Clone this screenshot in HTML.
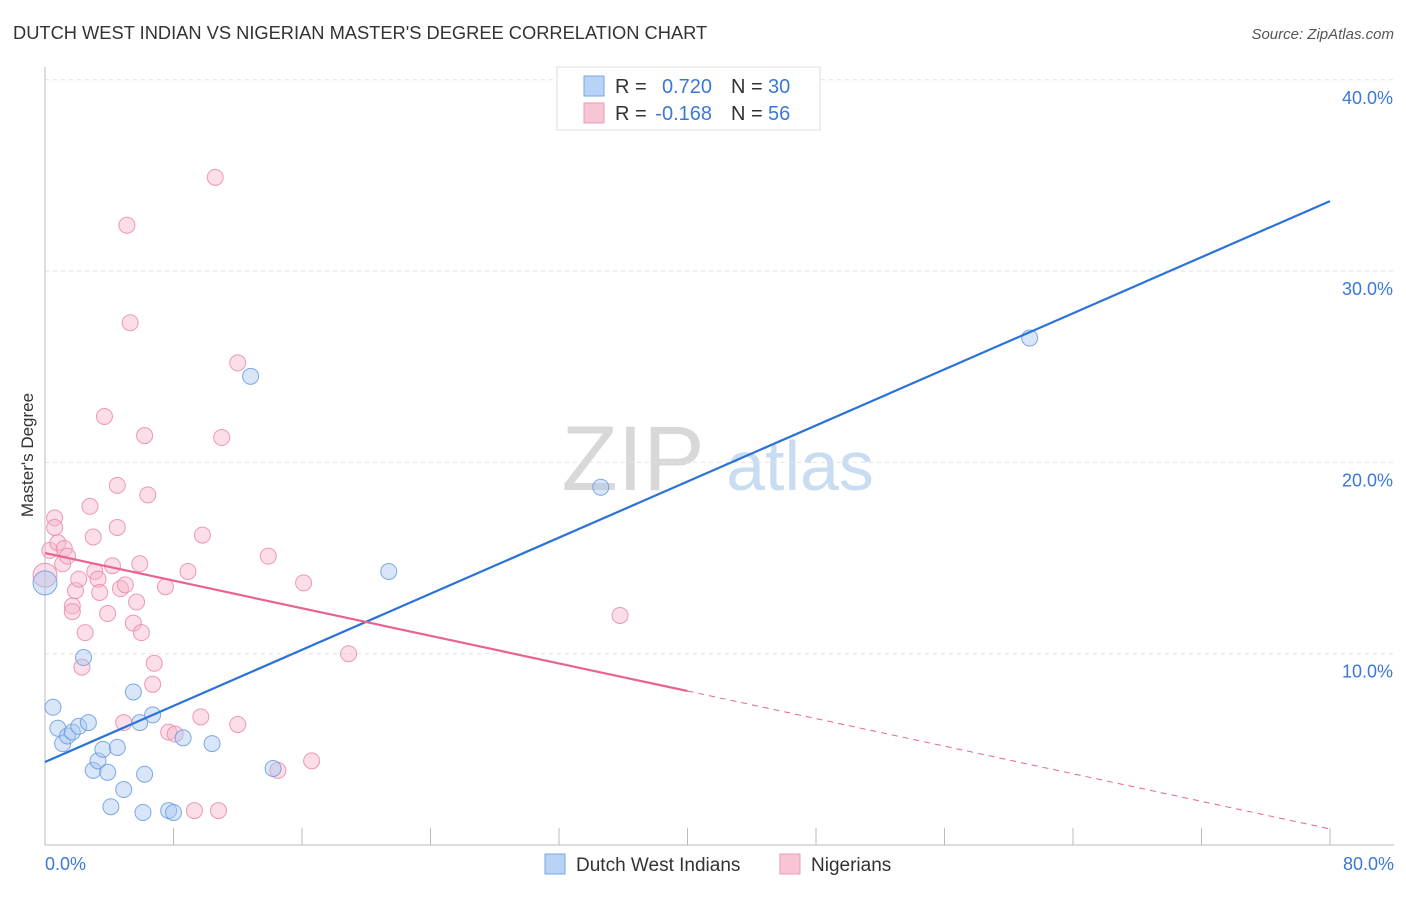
<!DOCTYPE html>
<html><head><meta charset="utf-8"><style>
body{margin:0;background:#fff;font-family:"Liberation Sans",sans-serif;}
svg text{font-family:"Liberation Sans",sans-serif;}
</style></head><body>
<svg id="chart" width="1406" height="892" viewBox="0 0 1406 892" xmlns="http://www.w3.org/2000/svg">
<text x="13" y="39" font-size="18.3" fill="#333">DUTCH WEST INDIAN VS NIGERIAN MASTER'S DEGREE CORRELATION CHART</text>
<text x="1394" y="39" font-size="15" fill="#555" font-style="italic" text-anchor="end">Source: ZipAtlas.com</text>
<g>
<text x="633" y="490" font-size="92" fill="#d8d8d8" font-family="Liberation Serif,serif" text-anchor="middle">ZIP</text>
<text x="800" y="490" font-size="70" fill="#c8dcf2" text-anchor="middle">atlas</text>
</g>
<g id="grid"></g>
<g id="axes"></g>
<g id="series"></g>
<text x="33" y="455" font-size="17" fill="#333" text-anchor="middle" transform="rotate(-90 33 455)">Master's Degree</text>
<text x="45" y="870" font-size="18" fill="#3b78d8">0.0%</text>
<text x="1394" y="870" font-size="18" fill="#3b78d8" text-anchor="end">80.0%</text>
<g>
<rect x="557" y="67" width="263" height="63" fill="#fff" stroke="#ddd"/>
<rect x="584" y="76" width="20" height="20" fill="#b8d3f5" stroke="#7aa6e6"/>
<rect x="584" y="103" width="20" height="20" fill="#f8c5d4" stroke="#eb9ab3"/>
<text x="615" y="93" font-size="20" fill="#333">R =</text>
<text x="712" y="93" font-size="20" fill="#3b78d8" text-anchor="end">0.720</text>
<text x="731" y="93" font-size="20" fill="#333">N =</text>
<text x="768" y="93" font-size="20" fill="#3b78d8">30</text>
<text x="615" y="120" font-size="20" fill="#333">R =</text>
<text x="712" y="120" font-size="20" fill="#3b78d8" text-anchor="end">-0.168</text>
<text x="731" y="120" font-size="20" fill="#333">N =</text>
<text x="768" y="120" font-size="20" fill="#3b78d8">56</text>
</g>
<g>
<rect x="545" y="854" width="20" height="20" fill="#b8d3f5" stroke="#7aa6e6"/>
<text x="576" y="871" font-size="19" fill="#333">Dutch West Indians</text>
<rect x="780" y="854" width="20" height="20" fill="#f8c5d4" stroke="#eb9ab3"/>
<text x="811" y="871" font-size="19" fill="#333">Nigerians</text>
</g>
</svg>
<script>
const yTicks=[10,20,30,40];
const yTickLabels=["10.0%","20.0%","30.0%","40.0%"];
const xTicks=[0,8,16,24,32,40,48,56,64,72,80];
const blueX=[0.0,0.5,0.8,1.1,1.4,1.7,2.1,2.4,2.7,3.0,3.3,3.6,3.9,4.1,4.5,4.9,5.5,5.9,6.1,6.2,6.7,7.7,8.0,8.6,10.4,12.8,14.2,21.4,34.6,61.3];
const blueY=[13.7,7.2,6.1,5.3,5.7,5.9,6.2,9.8,6.4,3.9,4.4,5.0,3.8,2.0,5.1,2.9,8.0,6.4,1.7,3.7,6.8,1.8,1.7,5.6,5.3,24.5,4.0,14.3,18.7,26.5];
const pinkX=[0.0,0.3,0.6,0.6,0.8,1.1,1.2,1.4,1.7,1.7,1.9,2.1,2.3,2.5,2.8,3.0,3.1,3.3,3.4,3.7,3.9,4.2,4.5,4.5,4.7,4.9,5.0,5.1,5.3,5.5,5.7,5.9,6.0,6.2,6.4,6.7,6.8,7.5,7.7,8.1,8.9,9.3,9.7,9.8,10.6,10.8,11.0,12.0,12.0,13.9,14.5,16.1,16.6,18.9,35.8];
const pinkY=[14.1,15.4,17.1,16.6,15.8,14.7,15.5,15.1,12.5,12.2,13.3,13.9,9.3,11.1,17.7,16.1,14.3,13.9,13.2,22.4,12.1,14.6,18.8,16.6,13.4,6.4,13.6,32.4,27.3,11.6,12.7,14.7,11.1,21.4,18.3,8.4,9.5,13.5,5.9,5.8,14.3,1.8,6.7,16.2,34.9,1.8,21.3,6.3,25.2,15.1,3.9,13.7,4.4,10.0,12.0];
const blueFit=[4.34,33.66];
const pinkFit=[15.26,0.84];
const pinkSolidEnd=40;
const NS="http://www.w3.org/2000/svg";
const X=v=>45+v*(1330-45)/80;
const Y=v=>845-v*19.13;
function mk(tag,attrs,parent){const e=document.createElementNS(NS,tag);for(const k in attrs)e.setAttribute(k,attrs[k]);document.getElementById(parent).appendChild(e);return e;}
yTicks.forEach((t,i)=>{
 const l=mk('line',{x1:45,x2:1394,y1:Y(t),y2:Y(t),stroke:'#e2e2e2','stroke-dasharray':'4,4'},'grid');
 
 
 const tx=mk('text',{x:1393,y:Y(t)+24,'font-size':18,fill:'#3b78d8','text-anchor':'end'},'grid');
 tx.textContent=yTickLabels[i];
 
 
});
const ax=mk('line',{x1:45,x2:45,y1:67,y2:845,stroke:'#bbb'},'axes');


const bx=mk('line',{x1:45,x2:1394,y1:845,y2:845,stroke:'#bbb'},'axes');


xTicks.forEach(t=>{
 const l=mk('line',{x1:X(t),x2:X(t),y1:828,y2:845,stroke:'#bbb'},'axes');
 
 
});
function pts(xs,ys,fill,stroke,name){
 xs.forEach((x,i)=>{
  const big=(x===0);
  const c=mk('circle',{cx:X(x),cy:Y(ys[i]),r:big?12:8,fill:fill,'fill-opacity':0.45,stroke:stroke,'stroke-width':1,'stroke-opacity':0.85},'series');
  
  
 });
}
pts(pinkX,pinkY,'#f6b6ca','#e98aa8','nigerian-point');
pts(blueX,blueY,'#a8c8f0','#6a9be0','dutch-point');
const bl=mk('line',{x1:X(0),y1:Y(blueFit[0]),x2:X(80),y2:Y(blueFit[1]),stroke:'#2a72d8','stroke-width':2.2},'series');


const pAt=x=>pinkFit[0]+(pinkFit[1]-pinkFit[0])*x/80;
const pl=mk('line',{x1:X(0),y1:Y(pinkFit[0]),x2:X(pinkSolidEnd),y2:Y(pAt(pinkSolidEnd)),stroke:'#e8648f','stroke-width':2.2},'series');


const pd=mk('line',{x1:X(pinkSolidEnd),y1:Y(pAt(pinkSolidEnd)),x2:X(80),y2:Y(pinkFit[1]),stroke:'#e8648f','stroke-width':1,'stroke-dasharray':'6,5'},'series');


</script>
</body></html>
